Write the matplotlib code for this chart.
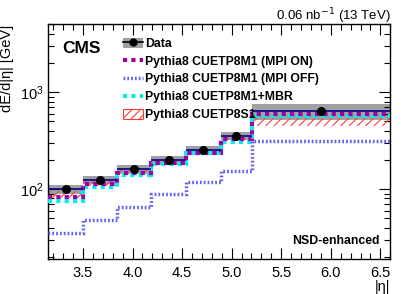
import matplotlib
matplotlib.use("Agg")
import matplotlib.pyplot as plt
from matplotlib.patches import Patch
from matplotlib.lines import Line2D
from matplotlib.ticker import LogLocator, MultipleLocator, NullFormatter
import numpy as np

plt.rcParams['font.family'] = ['Liberation Sans', 'DejaVu Sans']
plt.rcParams['hatch.color'] = '#ff3b3b'
plt.rcParams['hatch.linewidth'] = 0.8

# bin edges in |eta|
edges = [3.152, 3.5, 3.839, 4.191, 4.54, 4.889, 5.205, 6.6]
data = [100, 125, 161, 198, 254, 357, 643]
data_up = [11, 13, 17, 21, 27, 35, 120]
data_dn = [11, 13, 17, 21, 27, 35, 125]
mpi_on = [83, 112, 145, 185, 238, 327, 599]
mpi_off = [35.2, 48.1, 65.6, 88.7, 117, 155, 314]
mbr = [76, 106, 140, 182, 234, 309, 561]
s1_lo = [80, 108, 140, 180, 230, 300, 445]
s1_hi = [95, 122, 158, 195, 250, 340, 535]

edges = np.array(edges)
centers = 0.5 * (edges[:-1] + edges[1:])

fig = plt.figure(figsize=(4.07, 2.94), dpi=100)
ax = fig.add_axes([0.119, 0.119, 0.84, 0.798])

# data uncertainty band
for i in range(len(data)):
    ax.fill_between([edges[i], edges[i + 1]], data[i] - data_dn[i], data[i] + data_up[i],
                    color='#a0a0a0', lw=0, zorder=1)

# CUETP8S1 hatched band
for i in range(len(data)):
    ax.fill_between([edges[i], edges[i + 1]], s1_lo[i], s1_hi[i],
                    facecolor='none', edgecolor='#ff3b3b', hatch='////', lw=0, zorder=2)

ax.stairs(mbr, edges, baseline=None, color='#00f0f0', lw=3, ls=(0, (1, 1)), zorder=3)
ax.stairs(mpi_on, edges, baseline=None, color='#a000a0', lw=3, ls=(0, (1, 1)), zorder=4)
ax.stairs(mpi_off, edges, baseline=None, color='#6060ee', lw=2.5, ls=(0, (0.5, 0.6)), zorder=4)

# data: horizontal line across bin and marker
ax.hlines(data, edges[:-1], edges[1:], color='#000090', lw=1.2, zorder=5)
ax.plot(centers, data, 'o', color='black', ms=5.5, zorder=6)

ax.set_yscale('log')
ax.set_xlim(3.152, 6.6)
ax.set_ylim(19, 5000)

ax.xaxis.set_major_locator(MultipleLocator(0.5))
ax.xaxis.set_minor_locator(MultipleLocator(0.1))
ax.yaxis.set_major_locator(LogLocator(base=10, numticks=10))
ax.yaxis.set_minor_locator(LogLocator(base=10, subs=np.arange(2, 10), numticks=10))
ax.yaxis.set_minor_formatter(NullFormatter())
ax.tick_params(which='both', direction='in', top=True, right=True, labelsize=10.5)
ax.tick_params(which='major', length=8, width=0.8)
ax.tick_params(which='minor', length=4, width=0.8)
ax.tick_params(axis='x', pad=5)
for s in ax.spines.values():
    s.set_linewidth(1.0)

ax.set_ylabel('dE/d|η| [GeV]', fontsize=10.5, loc='top', labelpad=4)
ax.set_xlabel('|η|', fontsize=10.5, loc='right', labelpad=0)

ax.text(0.04, 0.93, 'CMS', transform=ax.transAxes, fontsize=12.5, fontweight='bold', va='top')
ax.text(0.97, 0.05, 'NSD-enhanced', transform=ax.transAxes, fontsize=8.8, fontweight='bold',
        ha='right', va='bottom')
fig.text(0.959, 0.932, '0.06 nb$^{-1}$ (13 TeV)', fontsize=9.5, ha='right', va='baseline')

h_data = (Patch(facecolor='#a0a0a0', edgecolor='none'),
          Line2D([], [], color='black', marker='o', ms=5, lw=1.2))
h_on = Line2D([], [], color='#a000a0', lw=3, ls=(0, (1, 1)))
h_off = Line2D([], [], color='#6060ee', lw=2.5, ls=(0, (0.5, 0.6)))
h_mbr = Line2D([], [], color='#00f0f0', lw=3, ls=(0, (1, 1)))
h_s1 = Patch(facecolor='white', edgecolor='#ff3b3b', hatch='////', lw=0.8)
leg = ax.legend([h_data, h_on, h_off, h_mbr, h_s1],
                ['Data', 'Pythia8 CUETP8M1 (MPI ON)', 'Pythia8 CUETP8M1 (MPI OFF)',
                 'Pythia8 CUETP8M1+MBR', 'Pythia8 CUETP8S1'],
                loc='upper left', bbox_to_anchor=(0.205, 0.965), frameon=False,
                prop={'weight': 'bold', 'size': 8.8}, handlelength=1.6, handleheight=0.9,
                handletextpad=0.2, labelspacing=0.45, borderaxespad=0)

fig.savefig('out.png', dpi=100)
